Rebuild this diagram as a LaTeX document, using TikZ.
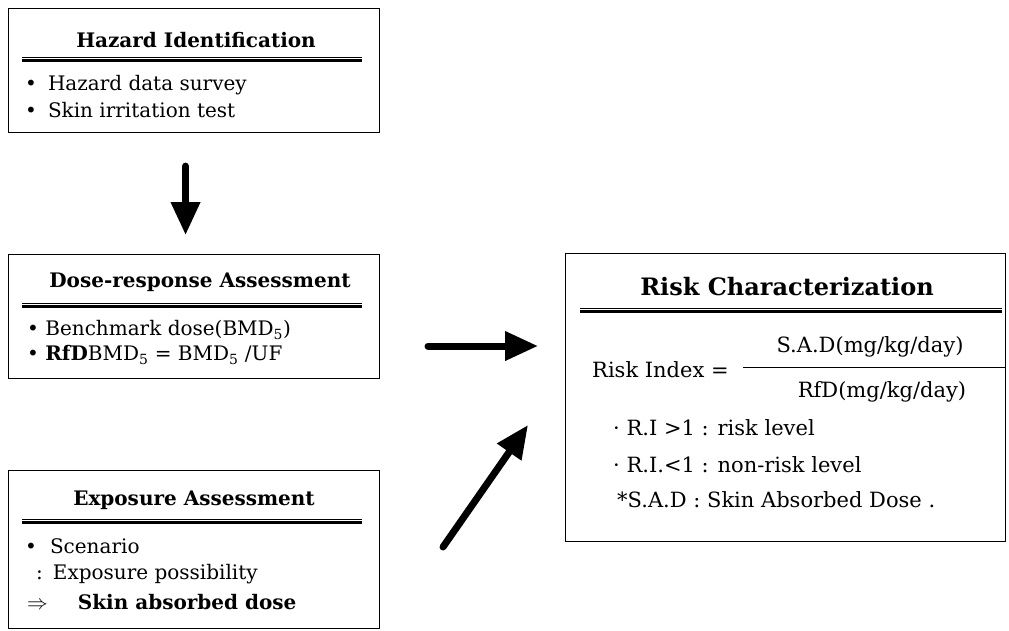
\documentclass[tikz,border=0pt]{standalone}
\usepackage{fontspec}
\setmainfont{DejaVu Serif}
\usetikzlibrary{arrows.meta,positioning}

\tikzset{
  panel/.style={rectangle, draw, line width=1.1pt, anchor=north west, inner sep=0pt},
  heading/.style={font=\fontsize{20}{24}\selectfont\bfseries},
  item/.style={anchor=west, inner sep=0pt, font=\fontsize{20}{24}\selectfont},
  riskitem/.style={item, font=\fontsize{21}{25}\selectfont},
  thinrule/.style={line width=0.6pt},
  thickrule/.style={line width=2.2pt},
  bigarrow/.style={line width=7pt, line cap=round, -{Triangle[length=33pt,width=28pt]}},
}

\begin{document}
\begin{tikzpicture}[x=1pt,y=-1pt]
        \useasboundingbox (0,0) rectangle (1009,630);

        % Define boxes
        \node (hazard) [panel, minimum width=371pt, minimum height=124pt] at (8,8) {};
        \node (dose) [panel, minimum width=371pt, minimum height=124pt] at (8,254) {};
        \node (exposure) [panel, minimum width=371pt, minimum height=158pt] at (8,470) {};
        \node (risk) [panel, minimum width=440pt, minimum height=288pt] at (565,253) {};

        % Hazard identification
        \node (hzTitle) [heading] at (196,40) {Hazard Identification};
        \draw[thinrule] (22,57) -- (362,57);
        \draw[thickrule] (22,60.5) -- (362,60.5);
        \node (hzOne) [item] at (25,85) {•\hspace{11pt}Hazard data survey};
        \node (hzTwo) [item] at (25,110) {•\hspace{11pt}Skin irritation test};

        % Dose-response assessment
        \node (drTitle) [heading] at (200,282) {Dose-response Assessment};
        \draw[thinrule] (22,303) -- (362,303);
        \draw[thickrule] (22,306.5) -- (362,306.5);
        \node (drOne) [item] at (27,330) {• Benchmark dose(BMD\textsubscript{5})};
        \node (drTwo) [item] at (27,355) {• \textbf{RfD}BMD\textsubscript{5} = BMD\textsubscript{5} /UF};

        % Exposure assessment
        \node (exTitle) [heading] at (194,500) {Exposure Assessment};
        \draw[thinrule] (22,519) -- (362,519);
        \draw[thickrule] (22,522.5) -- (362,522.5);
        \node (exOne) [item] at (25,546) {•\hspace{13pt}Scenario};
        \node (exTwo) [item] at (36,574) {:\hspace{10pt}Exposure possibility};
        \node (exThree) [item] at (27,602) {$\Rightarrow$\hspace{30pt}\textbf{Skin absorbed dose}};

        % Risk characterization
        \node (rcTitle) [heading, font=\fontsize{24}{28}\selectfont\bfseries] at (787,287) {Risk Characterization};
        \draw[thinrule] (580,308) -- (1002,308);
        \draw[thickrule] (580,311.5) -- (1002,311.5);
        \node (riLabel) [riskitem] at (592,370) {Risk Index =};
        \draw[thinrule] (743,367) -- (1005,367);
        \node (riTop) [riskitem, anchor=center] at (870,347) {S.A.D(mg/kg/day)};
        \node (riBottom) [riskitem, anchor=center] at (882,392) {RfD(mg/kg/day)};
        \node (riHigh) [riskitem] at (613,428) {· R.I >1 : risk level};
        \node (riLow) [riskitem] at (613,465) {· R.I.<1 : non-risk level};
        \node (riNote) [riskitem] at (617,500) {*S.A.D : Skin Absorbed Dose .};

        % Draw arrows
        \coordinate (drOut) at (428,346);
        \coordinate (rcInA) at (538,346);
        \coordinate (exOut) at (443,547);
        \coordinate (rcInB) at (528,425);
        \draw[bigarrow] ([xshift=-8.5pt,yshift=-33pt]hazard.south) -- ([xshift=-8.5pt,yshift=19pt]dose.north);
        \draw[bigarrow] (drOut) -- (rcInA);
        \draw[bigarrow] (exOut) -- (rcInB);
    \end{tikzpicture}
\end{document}
